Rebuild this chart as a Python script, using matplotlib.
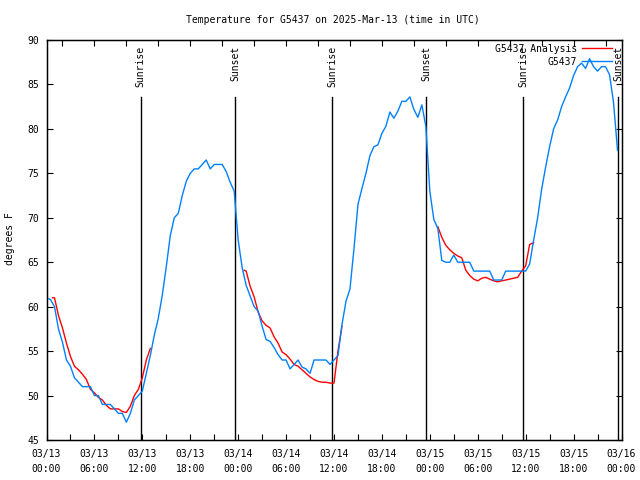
import numpy as np
import pandas as pd
import matplotlib
matplotlib.use("Agg")
import matplotlib.pyplot as plt
import matplotlib.dates as mdates

plt.rcParams['font.family'] = ['DejaVu Sans Mono']
plt.rcParams['font.size'] = 7

base = pd.Timestamp("2025-03-13 00:00")

# observed temperature (F), every 30 min from 03/13 00:00
obs_temp = [
    61, 60.8, 60, 57.5, 56, 54, 53.3, 52, 51.5, 51, 51, 51,
    50, 50, 49, 49, 49, 48.5, 48, 48, 47, 48, 49.5, 50,
    50.5, 52.5, 54.5, 56.8, 58.7, 61.3, 64.5, 68, 70, 70.5, 72.5, 74.1,
    75, 75.5, 75.5, 76, 76.5, 75.5, 76, 76, 76, 75.2, 74, 73,
    67.5, 64.4, 62.4, 61.2, 60, 59.5, 57.8, 56.3, 56.1, 55.4, 54.6, 54,
    54, 53, 53.5, 54, 53.2, 53, 52.5, 54, 54, 54, 54, 53.5,
    54, 54.5, 58, 60.6, 62, 66.5, 71.5, 73.3, 75, 77, 78, 78.2,
    79.5, 80.3, 81.9, 81.2, 82, 83.1, 83.1, 83.6, 82.2, 81.3, 82.7, 80.3,
    73, 69.8, 68.8, 65.2, 65, 65, 65.8, 65, 65, 65, 65, 64,
    64, 64, 64, 64, 63, 63, 63, 64, 64, 64, 64, 64,
    64, 64.8, 67.5, 70, 73.2, 75.7, 78, 80, 81, 82.5, 83.6, 84.6,
    86, 87, 87.4, 86.8, 87.9, 87, 86.5, 87, 87, 86.1, 83, 77.6,
]
obs_times = pd.date_range(base, periods=len(obs_temp), freq="30min")

# analysis (hours since 03/13 00:00), night segments separated by NaN
ana_hours = [
    0.75, 1, 1.5, 2, 2.5, 3, 3.5, 4, 4.5, 5, 5.5, 6, 6.5, 7, 7.5, 8, 8.5, 9,
    9.5, 10, 10.5, 11, 11.5, 12, 12.5, 13,
    13.01,
    24.75, 25, 25.5, 26, 26.5, 27, 27.5, 28, 28.5, 29, 29.5, 30, 30.5, 31,
    31.5, 32, 32.5, 33, 33.5, 34, 34.5, 35, 35.5, 36, 36.5, 37,
    37.01,
    49, 49.5, 50, 50.5, 51, 51.5, 52, 52.5, 53, 53.5, 54, 54.5, 55, 55.5,
    56, 56.5, 57, 57.5, 58, 58.5, 59, 59.5, 60, 60.5, 61,
]
ana_temp = [
    61, 61, 59, 57.6, 55.9, 54.4, 53.3, 52.9, 52.4, 51.8, 50.7, 50.3, 49.8,
    49.5, 48.9, 48.5, 48.5, 48.5, 48.2, 48.1, 48.8, 50, 50.7, 52, 54, 55.3,
    np.nan,
    64.1, 64, 62.3, 61.1, 59.4, 58.4, 57.9, 57.6, 56.6, 55.9, 54.9, 54.6,
    54.1, 53.5, 53.3, 52.9, 52.5, 52.1, 51.8, 51.6, 51.5, 51.5, 51.4, 51.4,
    55, 57.8,
    np.nan,
    69, 67.8, 66.9, 66.4, 66, 65.7, 65.5, 64.1, 63.5, 63.1, 62.9, 63.2, 63.3,
    63.1, 62.9, 62.8, 62.9, 63, 63.1, 63.2, 63.3, 64, 64.6, 67, 67.2,
]
ana_times = base + pd.to_timedelta(ana_hours, unit="h")

sun_hours = [11.8, 23.6, 35.75, 47.55, 59.7, 71.6]
sun_labels = ["Sunrise", "Sunset", "Sunrise", "Sunset", "Sunrise", "Sunset"]
sun_times = base + pd.to_timedelta(sun_hours, unit="h")

fig = plt.figure(figsize=(6.4, 4.8), dpi=100)
ax = fig.add_axes([46.5 / 640, 40 / 480, 575 / 640, 400 / 480])

for t, lab in zip(sun_times, sun_labels):
    ax.plot([t, t], [45, 83.6], color='black', lw=1.0, zorder=1)
    ax.text(t, 89.3, lab, rotation=90, ha='center', va='top', zorder=4)

ax.plot(ana_times, ana_temp, color='#ff0000', lw=1.0, zorder=2,
        label='G5437 Analysis')
ax.plot(obs_times, obs_temp, color='#0080ff', lw=1.0, zorder=3,
        label='G5437')

ax.set_xlim(base, base + pd.Timedelta(hours=72))
ax.set_ylim(45, 90)
ax.set_yticks(np.arange(45, 91, 5))
ax.xaxis.set_major_locator(mdates.HourLocator(byhour=range(0, 24, 6)))
ax.xaxis.set_minor_locator(mdates.HourLocator(byhour=range(0, 24, 3)))
ax.xaxis.set_major_formatter(mdates.DateFormatter("%m/%d\n%H:%M"))
ax.tick_params(axis='both', which='both', direction='in', length=4,
               width=0.8, top=False, right=True)
ax.tick_params(axis='x', which='major', pad=6.5)
ax.tick_params(axis='y', pad=5)
for lbl in ax.get_xticklabels():
    lbl.set_linespacing(1.6)
for s in ax.spines.values():
    s.set_linewidth(1.0)

# top axis ticks
ax2 = ax.twiny()
ax2.set_xlim(0, 72)
ax2.set_xticks(np.arange(2, 72, 4))
ax2.tick_params(axis='x', direction='in', length=4, width=0.8,
                labeltop=False)

handles, labels = ax.get_legend_handles_labels()
ax.legend(handles, labels, loc='upper right', bbox_to_anchor=(0.99, 1.0),
          frameon=False, markerfirst=False, handlelength=3.1,
          handletextpad=0.5, labelspacing=0.3, borderaxespad=0.2,
          borderpad=0.2)

fig.text(0.52, 1 - 20 / 480, "Temperature for G5437 on 2025-Mar-13 (time in UTC)",
         ha='center', va='center')
fig.text(10 / 640, 0.504, "degrees F", rotation=90, ha='center', va='center')

fig.savefig("out.png", dpi=100)
